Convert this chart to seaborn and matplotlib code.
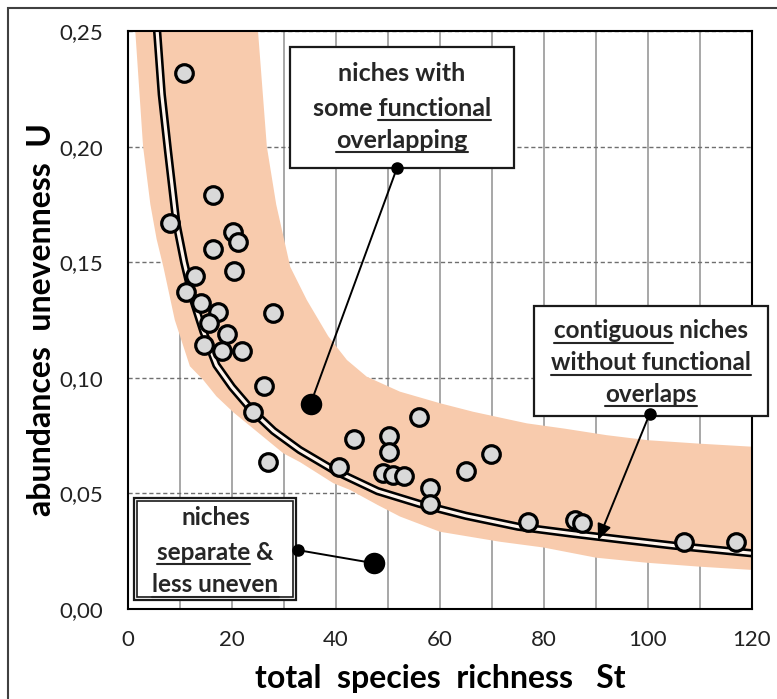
import matplotlib
matplotlib.use("Agg")
import matplotlib.pyplot as plt
from matplotlib.patches import Rectangle
from matplotlib.lines import Line2D
import pandas as pd
import seaborn as sns

# --- observed communities: total species richness vs abundance unevenness ---
richness = [10.8, 16.3, 8.1, 20.1, 21.1, 16.3, 20.3, 12.9, 11.1, 14.0, 17.4, 27.9,
            15.6, 19.1, 14.6, 18.0, 22.0, 26.2, 24.1, 27.0, 43.5, 40.6, 50.1, 50.1,
            49.0, 51.0, 53.1, 56.0, 58.1, 58.1, 69.9, 65.0, 76.9, 86.0, 87.4, 106.9, 116.9]
unevenness = [0.2317, 0.179, 0.1668, 0.1632, 0.1589, 0.1557, 0.1463, 0.1440, 0.137, 0.1325,
              0.1286, 0.1279, 0.1238, 0.119, 0.114, 0.1117, 0.1117, 0.0964, 0.0853, 0.0637,
              0.0735, 0.0616, 0.0748, 0.0678, 0.0587, 0.058, 0.0575, 0.0832, 0.0522, 0.0455,
              0.067, 0.0597, 0.0378, 0.0385, 0.0371, 0.0291, 0.0291]

# --- two highlighted example communities ---
example_richness = [35.1, 47.3]
example_unevenness = [0.0887, 0.0198]

# --- reference curve for contiguous niches without functional overlap ---
curve_richness = [5.4, 5.6, 6.5, 7.7, 9.3, 10.8, 12.5, 14.5, 17.0, 20.0, 24.0, 28.0, 33.0,
                  40.0, 48.0, 56.0, 65.0, 75.0, 85.0, 95.0, 105.0, 120.0]
curve_unevenness = [0.258, 0.250, 0.2225, 0.198, 0.167, 0.150, 0.134, 0.120, 0.1055, 0.096,
                    0.0855, 0.077, 0.0688, 0.0595, 0.0510, 0.0455, 0.0403, 0.0356, 0.0327,
                    0.0300, 0.0274, 0.0241]

# --- envelope of functional overlap (upper and lower borders) ---
band_upper_richness = [24.8, 25.0, 26.7, 28.5, 31.2, 34.4, 38.5, 42.1, 45.9, 52.3, 60.0,
                       66.4, 76.7, 84.0, 92.0, 100.0, 110.0, 120.0]
band_upper_unevenness = [0.26, 0.25, 0.20, 0.175, 0.148, 0.1336, 0.118, 0.1077, 0.1005, 0.094,
                         0.089, 0.0853, 0.0803, 0.078, 0.0752, 0.073, 0.0715, 0.0702]
band_lower_richness = [1.2, 1.4, 2.9, 4.3, 5.5, 6.8, 9.0, 11.9, 14.5, 17.0, 20.3, 24.1, 29.9,
                       33.1, 39.5, 42.7, 48.0, 52.3, 60.0, 71.5, 79.9, 90.0, 99.8, 110.0, 120.0]
band_lower_unevenness = [0.26, 0.25, 0.20, 0.175, 0.16, 0.148, 0.125, 0.105, 0.099, 0.092,
                         0.085, 0.078, 0.0673, 0.0635, 0.0544, 0.0515, 0.045, 0.040, 0.0334,
                         0.0291, 0.0266, 0.0222, 0.020, 0.0183, 0.0169]

x_ticks = [0, 20, 40, 60, 80, 100, 120]
x_tick_labels = ["0", "20", "40", "60", "80", "100", "120"]
y_ticks = [0.00, 0.05, 0.10, 0.15, 0.20, 0.25]
y_tick_labels = ["0,00", "0,05", "0,10", "0,15", "0,20", "0,25"]

sns.set_theme(style="white")
plt.rcParams["font.family"] = ["Lato", "DejaVu Sans"]

W, H, DPI = 777, 699, 100
fig = plt.figure(figsize=(W / DPI, H / DPI), dpi=DPI)
ax = fig.add_axes([128 / W, 1 - 609 / H, (752 - 128) / W, (609 - 31) / H])

ax.set_xlim(0, 120)
ax.set_ylim(0, 0.25)

# grid: solid vertical lines every 10, dashed horizontal lines every 0.05
ax.set_axisbelow(True)
ax.set_xticks(x_ticks)
ax.set_xticks([10, 30, 50, 70, 90, 110], minor=True)
ax.set_xticklabels(x_tick_labels)
ax.set_yticks(y_ticks)
ax.set_yticklabels(y_tick_labels)
ax.grid(axis="x", which="both", color="#8f8f8f", linewidth=1.1, linestyle="-")
ax.grid(axis="y", which="major", color="#6f6f6f", linewidth=1.0, linestyle=(0, (3, 2)))
ax.tick_params(axis="both", which="both", length=0, labelsize=16, colors="#222222")
ax.tick_params(axis="y", pad=18)
ax.tick_params(axis="x", pad=15)
for sp in ax.spines.values():
    sp.set_color("black")
    sp.set_linewidth(1.5)

# functional-overlap envelope
band_x = band_upper_richness + band_lower_richness[::-1]
band_y = band_upper_unevenness + band_lower_unevenness[::-1]
ax.fill(band_x, band_y, color="#f8cbad", linewidth=0, zorder=1)

# double-stroke reference curve
curve_df = pd.DataFrame({"St": curve_richness, "U": curve_unevenness})
sns.lineplot(data=curve_df, x="St", y="U", color="black", linewidth=6.0,
             estimator=None, sort=False, ax=ax, zorder=2)
sns.lineplot(data=curve_df, x="St", y="U", color="#fff4ec", linewidth=2.3,
             estimator=None, sort=False, ax=ax, zorder=2.1)

# observed communities
obs_df = pd.DataFrame({"St": richness, "U": unevenness})
sns.scatterplot(data=obs_df, x="St", y="U", s=160, color="#d9d9d9", edgecolor="black",
                linewidth=2.3, ax=ax, zorder=4, legend=False)

# highlighted examples
ex_df = pd.DataFrame({"St": example_richness, "U": example_unevenness})
sns.scatterplot(data=ex_df, x="St", y="U", s=240, color="black", edgecolor="black",
                linewidth=0, ax=ax, zorder=4, legend=False)

ax.set_xlabel("total  species  richness   St", fontsize=23, fontweight="bold",
              color="black", labelpad=10)
ax.set_ylabel("abundances  unevenness  U", fontsize=23, fontweight="bold",
              color="black", labelpad=2)

# --- annotation boxes (data coordinates) ---
text_color = "#262626"
def box(x0, y0, x1, y1, double=False):
    ax.add_patch(Rectangle((x0, y0), x1 - x0, y1 - y0, facecolor="white",
                           edgecolor="#1a1a1a", linewidth=1.6, zorder=6, clip_on=False))
    if double:
        dx, dy = 0.6, 0.0013
        ax.add_patch(Rectangle((x0 + dx, y0 + dy), x1 - x0 - 2 * dx, y1 - y0 - 2 * dy,
                               facecolor="none", edgecolor="#1a1a1a", linewidth=1.2,
                               zorder=6.1, clip_on=False))

box(31.2, 0.1906, 74.3, 0.2432)
box(78.1, 0.0835, 123.0, 0.1310)
box(1.15, 0.0039, 32.4, 0.0481, double=True)

# connector lines with end dots
ax.plot([51.7, 35.1], [0.1906, 0.0887], color="black", linewidth=1.4, zorder=5)
ax.plot([51.7], [0.1906], marker="o", markersize=8, color="black", zorder=7, clip_on=False)
ax.plot([32.6, 47.3], [0.0255, 0.0198], color="black", linewidth=1.4, zorder=5)
ax.plot([32.6], [0.0255], marker="o", markersize=8, color="black", zorder=7, clip_on=False)
ax.annotate("", xy=(90.4, 0.0298), xytext=(100.3, 0.0843),
            arrowprops=dict(arrowstyle="-|>,head_length=0.8,head_width=0.35",
                            color="black", linewidth=1.4, shrinkA=0, shrinkB=0),
            zorder=7)
ax.plot([100.3], [0.0843], marker="o", markersize=8, color="black", zorder=8, clip_on=False)

# box texts: (centre x, baseline y, text, underlined words, size)
def px_to_data(px, py):
    return (px - 128) / 5.2, (609 - py) * 0.25 / 578

lines = [
    (402, 80.7, "niches with", [], 18),
    (402, 115.5, "some functional", ["functional"], 18),
    (402, 148.5, "overlapping", ["overlapping"], 18),
    (651, 338.5, "contiguous niches", ["contiguous"], 17.5),
    (651, 370.5, "without functional", ["without functional"], 17.5),
    (651, 401.5, "overlaps", ["overlaps"], 17.5),
    (215.5, 525, "niches", [], 17.5),
    (215.5, 559.5, "separate &", ["separate"], 17.5),
    (215.5, 592.5, "less uneven", ["less uneven"], 17.5),
]
texts = []
for px, py, s, under, fs in lines:
    x, y = px_to_data(px, py)
    t = ax.text(x, y, s, ha="center", va="baseline", fontsize=fs, fontweight="bold",
                color=text_color, zorder=9, clip_on=False)
    texts.append((t, s, under))

fig.canvas.draw()
renderer = fig.canvas.get_renderer()
inv = fig.transFigure.inverted()
for t, s, under in texts:
    bb = t.get_window_extent(renderer)
    prop = t.get_fontproperties()
    _, base_y = ax.transData.transform(t.get_position())
    for word in under:
        i = s.index(word)
        w_end, _, _ = renderer.get_text_width_height_descent(s[: i + len(word)], prop, ismath=False)
        w_word, _, _ = renderer.get_text_width_height_descent(word, prop, ismath=False)
        x1 = bb.x0 + w_end
        x0 = x1 - w_word
        yy = base_y - 4
        (fx0, fy), (fx1, _) = inv.transform([(x0, yy), (x1, yy)])
        fig.add_artist(Line2D([fx0, fx1], [fy, fy], color=text_color, linewidth=1.5, zorder=10))

# outer frame of the figure
fig.add_artist(Rectangle((8 / W, -0.05), 1.0, 1 - 7.5 / H + 0.05, transform=fig.transFigure,
                         facecolor="none", edgecolor="#404040", linewidth=1.5, zorder=20))

fig.savefig("out.png", dpi=DPI)
